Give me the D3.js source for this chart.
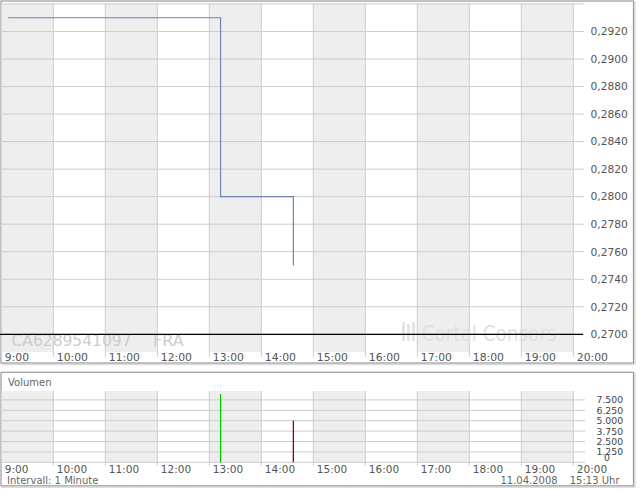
<!DOCTYPE html>
<html>
<head>
<meta charset="utf-8">
<script src="https://cdn.jsdelivr.net/npm/d3@7"></script>
<style>
  html, body { margin: 0; padding: 0; background: #fff; }
  svg { display: block; }
  text { font-family: "DejaVu Sans", Verdana, sans-serif; }
</style>
</head>
<body>
<svg id="chart" width="640" height="492"></svg>
<script>
// ---------- data ----------
const hourLabels = ["9:00","10:00","11:00","12:00","13:00","14:00","15:00","16:00","17:00","18:00","19:00","20:00"];
const hourValues = [9,10,11,12,13,14,15,16,17,18,19,20];

const priceTimes  = ["09:08","13:13","14:37"];
const priceValues = [0.2930, 0.2800, 0.2750];
const previousClose = 0.2700;

const priceTickValues = [0.2700,0.2720,0.2740,0.2760,0.2780,0.2800,0.2820,0.2840,0.2860,0.2880,0.2900,0.2920,0.2940];
const priceTickLabels = ["0,2700","0,2720","0,2740","0,2760","0,2780","0,2800","0,2820","0,2840","0,2860","0,2880","0,2900","0,2920",""];

const volumeTimes  = ["13:13","14:37"];
const volumeValues = [8200, 5000];
const volumeDirection = ["up","down"];

const volumeTickValues = [0,1250,2500,3750,5000,6250,7500];
const volumeTickLabels = ["0","1.250","2.500","3.750","5.000","6.250","7.500"];

const isin = "CA6289541097";
const exchange = "FRA";
const intervalText = "Intervall: 1 Minute";
const dateText = "11.04.2008";
const timeText = "15:13 Uhr";

// ---------- helpers ----------
const toMin = s => { const [h,m] = s.split(":").map(Number); return h*60+m; };

const svg = d3.select("#chart");

const x = d3.scaleLinear().domain([9*60, 20*60]).range([1.3, 573.3]);
const y = d3.scaleLinear().domain([0.2700, 0.2920]).range([334.3, 31.5]);
const yv = d3.scaleLinear().domain([0, 7500]).range([462.3, 399.9]);

const gridColor = "#cccccc";
const bandColor = "#eeeeee";
const textColor = "#555555";

// ---------- panels (shadow + border) ----------
function panel(px, py, pw, ph) {
  svg.append("rect").attr("x", px+1.5).attr("y", py+1.5).attr("width", pw).attr("height", ph)
    .attr("fill", "none").attr("stroke", "#dddddd").attr("stroke-width", 1.5);
  svg.append("rect").attr("x", px).attr("y", py).attr("width", pw).attr("height", ph)
    .attr("fill", "#fff").attr("stroke", "#9a9a9a").attr("stroke-width", 1.2);
}
panel(1, 1, 632.5, 362);
panel(1, 372.3, 632.5, 113.5);

// ---------- main price panel ----------
const mainTop = y(0.2940), mainBottom = 352;
const main = svg.append("g");

// alternating bands
main.selectAll("rect.band").data(hourValues.slice(0, -1).filter((h,i) => i % 2 === 0))
  .enter().append("rect")
  .attr("x", h => x(h*60)).attr("width", h => x((h+1)*60) - x(h*60))
  .attr("y", mainTop).attr("height", mainBottom - mainTop)
  .attr("fill", bandColor);

// horizontal grid
main.selectAll("line.hg").data(priceTickValues).enter().append("line")
  .attr("x1", 2).attr("x2", 584)
  .attr("y1", d => y(d)).attr("y2", d => y(d))
  .attr("stroke", gridColor).attr("stroke-width", 1);

// vertical grid
main.selectAll("line.vg").data(hourValues).enter().append("line")
  .attr("x1", h => x(h*60)).attr("x2", h => x(h*60))
  .attr("y1", mainTop).attr("y2", 357)
  .attr("stroke", gridColor).attr("stroke-width", 1);

// watermarks
main.append("text").attr("x", 11.5).attr("y", 346)
  .attr("font-size", 16).attr("fill", "#cccccc")
  .attr("textLength", 120).attr("lengthAdjust", "spacingAndGlyphs")
  .text(isin);
main.append("text").attr("x", 153).attr("y", 346)
  .attr("font-size", 16).attr("fill", "#cccccc")
  .text(exchange);

const logo = main.append("g").attr("fill", "#e4e4e4");
[[402,322,3,19],[407,324,3,17],[412,322,3,19]].forEach(r =>
  logo.append("rect").attr("x", r[0]).attr("y", r[1]).attr("width", r[2]).attr("height", r[3]));
main.append("text").attr("x", 421.5).attr("y", 341)
  .attr("font-family", "Liberation Sans, Arial, sans-serif")
  .attr("font-size", 22).attr("fill", "#e0e0e0")
  .attr("textLength", 135).attr("lengthAdjust", "spacingAndGlyphs")
  .text("Cortal Consors");

// previous close line
main.append("line").attr("x1", 0).attr("x2", 583)
  .attr("y1", y(previousClose)).attr("y2", y(previousClose))
  .attr("stroke", "#000").attr("stroke-width", 1.2);

// price line
const pricePts = priceTimes.map((t,i) => [x(toMin(t)), y(priceValues[i])]);
main.append("path")
  .attr("d", d3.line().curve(d3.curveStepAfter)(pricePts))
  .attr("fill", "none").attr("stroke", "#6e84b4").attr("stroke-width", 1.2);

// price axis labels
main.selectAll("text.py").data(priceTickValues).enter().append("text")
  .attr("x", 590.5).attr("y", d => y(d) + 3.8)
  .attr("font-size", 10.7).attr("fill", textColor)
  .text((d,i) => priceTickLabels[i]);

// time labels
main.selectAll("text.tx").data(hourValues).enter().append("text")
  .attr("x", h => x(h*60) + 3.5).attr("y", 361)
  .attr("font-size", 10.8).attr("fill", textColor)
  .text((h,i) => hourLabels[i]);

// ---------- volume panel ----------
const volTop = 391, volBottom = yv(0);
const vol = svg.append("g");

vol.append("text").attr("x", 8).attr("y", 386)
  .attr("font-size", 10).attr("fill", "#666")
  .text("Volumen");

vol.selectAll("rect.band").data(hourValues.slice(0, -1).filter((h,i) => i % 2 === 0))
  .enter().append("rect")
  .attr("x", h => x(h*60)).attr("width", h => x((h+1)*60) - x(h*60))
  .attr("y", volTop).attr("height", volBottom - volTop)
  .attr("fill", bandColor);

vol.selectAll("line.hg").data(volumeTickValues).enter().append("line")
  .attr("x1", 2).attr("x2", 585)
  .attr("y1", d => yv(d)).attr("y2", d => yv(d))
  .attr("stroke", gridColor).attr("stroke-width", 1);

vol.selectAll("line.vg").data(hourValues).enter().append("line")
  .attr("x1", h => x(h*60)).attr("x2", h => x(h*60))
  .attr("y1", volTop).attr("y2", 466)
  .attr("stroke", gridColor).attr("stroke-width", 1);

vol.selectAll("line.bar").data(volumeValues).enter().append("line")
  .attr("x1", (d,i) => x(toMin(volumeTimes[i]))).attr("x2", (d,i) => x(toMin(volumeTimes[i])))
  .attr("y1", yv(0)).attr("y2", d => yv(d))
  .attr("stroke", (d,i) => volumeDirection[i] === "up" ? "#00cc00" : "#990000")
  .attr("stroke-width", 1.3);

vol.selectAll("text.vy").data(volumeTickValues).enter().append("text")
  .attr("x", d => d === 0 ? 604 : 596.5)
  .attr("y", d => yv(d) + (d === 0 ? -1 : 3.4))
  .attr("font-size", 9.3).attr("fill", "#444")
  .text((d,i) => volumeTickLabels[i]);

vol.selectAll("text.tx").data(hourValues).enter().append("text")
  .attr("x", h => x(h*60) + 3.5).attr("y", 472.5)
  .attr("font-size", 10.5).attr("fill", textColor)
  .text((h,i) => hourLabels[i]);

vol.append("text").attr("x", 7).attr("y", 484)
  .attr("font-size", 10).attr("fill", "#666")
  .text(intervalText);
vol.append("text").attr("x", 557.7).attr("y", 484).attr("text-anchor", "end")
  .attr("font-size", 10).attr("fill", "#666")
  .text(dateText);
vol.append("text").attr("x", 619.5).attr("y", 484).attr("text-anchor", "end")
  .attr("font-size", 10).attr("fill", "#666")
  .text(timeText);
</script>
</body>
</html>
